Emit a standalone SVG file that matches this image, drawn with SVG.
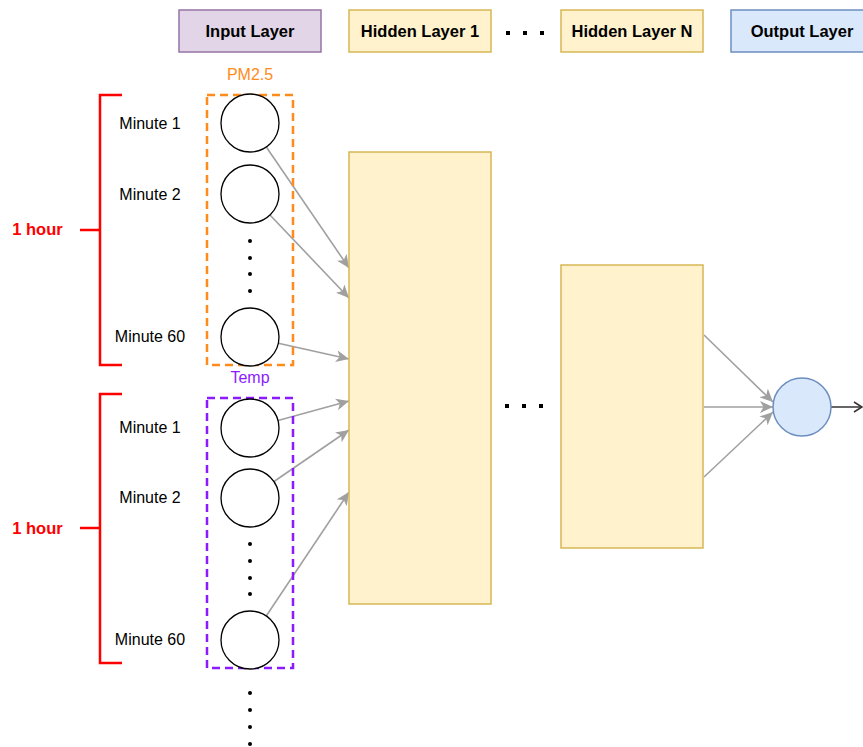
<svg xmlns="http://www.w3.org/2000/svg" width="863" height="747" viewBox="0 0 863 747">
  <style>
    text { font-family: "Liberation Sans", Arial, Helvetica, sans-serif; }
    .hdr { font-size: 16.5px; font-weight: bold; fill: #000; text-anchor: middle; dominant-baseline: central; }
    .lbl { font-size: 16px; fill: #000; text-anchor: middle; dominant-baseline: central; }
    .hour { font-size: 16.5px; font-weight: bold; fill: #ff0000; text-anchor: middle; dominant-baseline: central; }
    .purple { fill: #e1d5e7; stroke: #9673a6; stroke-width: 1.5; }
    .yellow { fill: #fff2cc; stroke: #d6b656; stroke-width: 1.5; }
    .blue { fill: #dae8fc; stroke: #6c8ebf; stroke-width: 1.5; }
    .neuron { fill: #ffffff; stroke: #000000; stroke-width: 1.3; }
    .edge { stroke: #a0a0a0; stroke-width: 1.6; fill: none; marker-end: url(#arr); }
    .brace { stroke: #ff0000; stroke-width: 2.5; fill: none; }
    .dot { fill: #000; }
  </style>
  <defs>
    <marker id="arr" markerUnits="userSpaceOnUse" markerWidth="14" markerHeight="12" viewBox="0 0 14 12" refX="13" refY="6" orient="auto">
      <path d="M0,0 L13,6 L0,12 L3.5,6 Z" fill="#a0a0a0"/>
    </marker>
    <marker id="open" markerUnits="userSpaceOnUse" markerWidth="12" markerHeight="12" viewBox="0 0 12 12" refX="10" refY="6" orient="auto">
      <path d="M2,1 L10,6 L2,11" fill="none" stroke="#333" stroke-width="1.5"/>
    </marker>
  </defs>

  <!-- layer headings -->
  <g id="hdr-input">
    <rect class="purple" x="179" y="10" width="142" height="42"/>
    <text class="hdr" x="250" y="31">Input Layer</text>
  </g>
  <g id="hdr-hidden1">
    <rect class="yellow" x="349" y="10" width="142" height="42"/>
    <text class="hdr" x="420" y="31">Hidden Layer 1</text>
  </g>
  <g id="hdr-dots">
    <rect class="dot" x="506" y="31" width="4" height="4"/>
    <rect class="dot" x="523" y="31" width="4" height="4"/>
    <rect class="dot" x="540" y="31" width="4" height="4"/>
  </g>
  <g id="hdr-hiddenN">
    <rect class="yellow" x="561" y="10" width="142" height="42"/>
    <text class="hdr" x="632" y="31">Hidden Layer N</text>
  </g>
  <g id="hdr-output">
    <rect class="blue" x="731" y="10" width="142" height="42"/>
    <text class="hdr" x="802" y="31">Output Layer</text>
  </g>

  <!-- connectors -->
  <g id="connectors">
    <line class="edge" x1="266.3" y1="147" x2="349" y2="268"/>
    <line class="edge" x1="270" y1="215" x2="349" y2="298"/>
    <line class="edge" x1="278.3" y1="343.3" x2="349" y2="359"/>
    <line class="edge" x1="278" y1="420.4" x2="349" y2="401"/>
    <line class="edge" x1="274" y1="481.5" x2="349" y2="430"/>
    <line class="edge" x1="266.4" y1="615.7" x2="349" y2="492"/>
    <line class="edge" x1="704" y1="335" x2="773" y2="402"/>
    <line class="edge" x1="704" y1="407" x2="773" y2="407"/>
    <line class="edge" x1="704" y1="477" x2="773" y2="412"/>
    <line x1="831" y1="407" x2="862" y2="407" stroke="#333" stroke-width="1.5" marker-end="url(#open)"/>
  </g>

  <!-- PM2.5 input group -->
  <g id="group-pm25">
    <rect x="207" y="95" width="86" height="270" fill="none" stroke="#ff8c1a" stroke-width="2.5" stroke-dasharray="8 5"/>
    <text x="250" y="74" font-size="16" fill="#ff8c1a" text-anchor="middle" dominant-baseline="central">PM2.5</text>
  </g>
  <g id="bracket-1">
    <path class="brace" d="M122,95 H100 V365 H122 M80,230 H100"/>
    <text class="hour" x="37.5" y="229">1 hour</text>
  </g>
  <g id="pm-min1">
    <circle class="neuron" cx="250" cy="123" r="29"/>
    <text class="lbl" x="150" y="123">Minute 1</text>
  </g>
  <g id="pm-min2">
    <circle class="neuron" cx="250" cy="194" r="29"/>
    <text class="lbl" x="150" y="194">Minute 2</text>
  </g>
  <g id="pm-dots">
    <circle class="dot" cx="250" cy="241" r="2"/>
    <circle class="dot" cx="250" cy="258" r="2"/>
    <circle class="dot" cx="250" cy="274" r="2"/>
    <circle class="dot" cx="250" cy="291" r="2"/>
  </g>
  <g id="pm-min60">
    <circle class="neuron" cx="250" cy="337" r="29"/>
    <text class="lbl" x="150" y="336">Minute 60</text>
  </g>

  <!-- Temp input group -->
  <g id="group-temp">
    <rect x="207" y="398" width="86" height="270" fill="none" stroke="#8c1aff" stroke-width="2.5" stroke-dasharray="8 5"/>
    <text x="250" y="377" font-size="16" fill="#8c1aff" text-anchor="middle" dominant-baseline="central">Temp</text>
  </g>
  <g id="bracket-2">
    <path class="brace" d="M122,394 H100 V663 H122 M80,528 H100"/>
    <text class="hour" x="37.5" y="528">1 hour</text>
  </g>
  <g id="t-min1">
    <circle class="neuron" cx="250" cy="428" r="29"/>
    <text class="lbl" x="150" y="427">Minute 1</text>
  </g>
  <g id="t-min2">
    <circle class="neuron" cx="250" cy="498" r="29"/>
    <text class="lbl" x="150" y="497">Minute 2</text>
  </g>
  <g id="t-dots">
    <circle class="dot" cx="250" cy="544" r="2"/>
    <circle class="dot" cx="250" cy="561" r="2"/>
    <circle class="dot" cx="250" cy="578" r="2"/>
    <circle class="dot" cx="250" cy="594" r="2"/>
  </g>
  <g id="t-min60">
    <circle class="neuron" cx="250" cy="640" r="29"/>
    <text class="lbl" x="150" y="639">Minute 60</text>
  </g>
  <g id="more-inputs">
    <circle class="dot" cx="250" cy="693" r="2"/>
    <circle class="dot" cx="250" cy="710" r="2"/>
    <circle class="dot" cx="250" cy="727" r="2"/>
    <circle class="dot" cx="250" cy="744" r="2"/>
  </g>

  <!-- hidden layers -->
  <g id="hidden1">
    <rect class="yellow" x="349" y="152" width="142" height="452"/>
  </g>
  <g id="hidden-dots">
    <rect class="dot" x="505" y="404" width="4" height="4"/>
    <rect class="dot" x="522" y="404" width="4" height="4"/>
    <rect class="dot" x="539" y="404" width="4" height="4"/>
  </g>
  <g id="hiddenN">
    <rect class="yellow" x="561" y="265" width="142" height="283"/>
  </g>

  <!-- output neuron -->
  <g id="output">
    <circle class="blue" cx="802" cy="407" r="29"/>
  </g>
</svg>
